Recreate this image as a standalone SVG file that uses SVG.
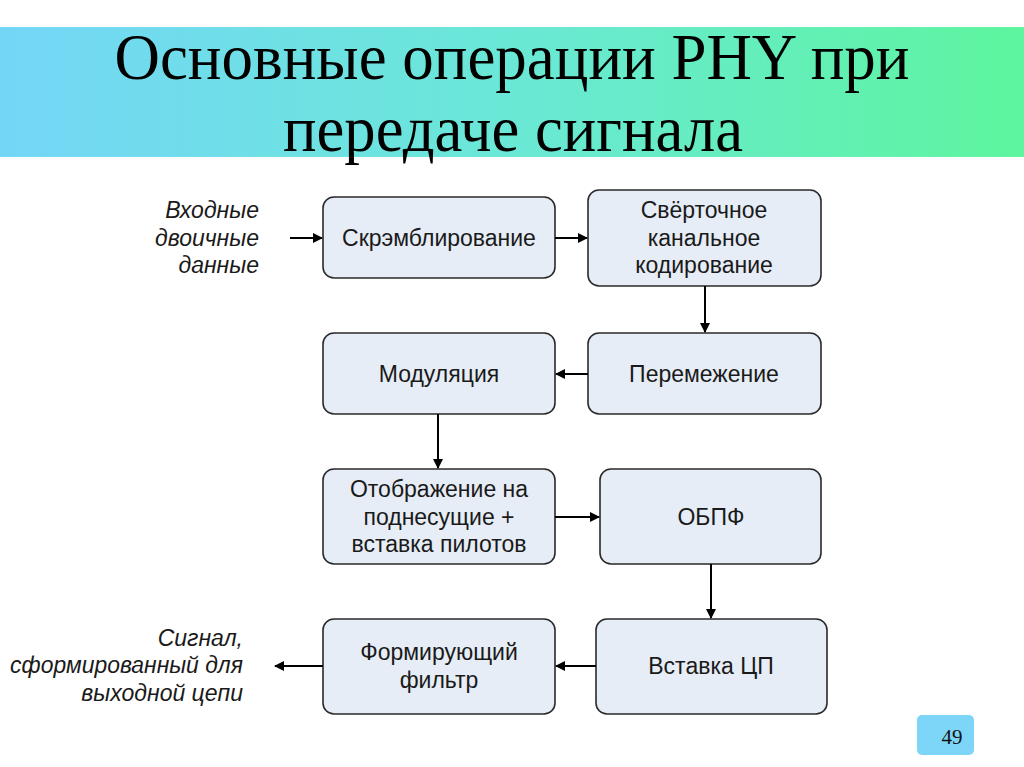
<svg xmlns="http://www.w3.org/2000/svg" width="1024" height="767" viewBox="0 0 1024 767">
<defs>
<linearGradient id="band" x1="0" y1="0" x2="1" y2="0">
<stop offset="0" stop-color="#74d6f7"/>
<stop offset="0.5" stop-color="#6ae8d6"/>
<stop offset="1" stop-color="#5df59e"/>
</linearGradient>
<marker id="arr" markerWidth="10" markerHeight="10" refX="9" refY="5" orient="auto" markerUnits="userSpaceOnUse">
<path d="M0,0 L10,5 L0,10 Z" fill="#000"/>
</marker>
<style>
.box{fill:#e6edf6;stroke:#2a2a2a;stroke-width:1.6}
.t{font-family:"Liberation Sans",Arial,sans-serif;font-size:23px;fill:#1a1a1a;text-anchor:middle}
.lab{font-family:"Liberation Sans",Arial,sans-serif;font-size:23px;font-style:italic;fill:#1a1a1a;text-anchor:end}
.c{stroke:#000;stroke-width:2;fill:none;marker-end:url(#arr)}
.title{font-family:"Liberation Serif","Times New Roman",serif;font-size:66px;fill:#000;text-anchor:middle}
</style>
</defs>
<rect width="1024" height="767" fill="#fff"/>
<rect x="0" y="27" width="1024" height="130" fill="url(#band)"/>
<text class="title" x="512" y="79" textLength="795" lengthAdjust="spacingAndGlyphs">Основные операции PHY при</text>
<text class="title" x="513" y="151" textLength="460" lengthAdjust="spacingAndGlyphs">передаче сигнала</text>

<g id="in-label">
<text class="lab" x="259" y="218">Входные</text>
<text class="lab" x="259" y="246">двоичные</text>
<text class="lab" x="259" y="273">данные</text>
</g>
<g id="out-label">
<text class="lab" x="243" y="646">Сигнал,</text>
<text class="lab" x="243" y="673" textLength="233" lengthAdjust="spacingAndGlyphs">сформированный для</text>
<text class="lab" x="243" y="701">выходной цепи</text>
</g>

<g id="n1"><rect class="box" x="323" y="197" width="232" height="81" rx="11"/><text class="t" x="439" y="246">Скрэмблирование</text></g>
<g id="n2"><rect class="box" x="588" y="190" width="233" height="96" rx="11"/><text class="t" x="704" y="218">Свёрточное</text><text class="t" x="704" y="246">канальное</text><text class="t" x="704" y="273">кодирование</text></g>
<g id="n3"><rect class="box" x="323" y="333" width="232" height="81" rx="11"/><text class="t" x="439" y="382">Модуляция</text></g>
<g id="n4"><rect class="box" x="588" y="333" width="233" height="81" rx="11"/><text class="t" x="704" y="382">Перемежение</text></g>
<g id="n5"><rect class="box" x="323" y="469" width="232" height="95" rx="11"/><text class="t" x="439" y="497">Отображение на</text><text class="t" x="439" y="525">поднесущие +</text><text class="t" x="439" y="552">вставка пилотов</text></g>
<g id="n6"><rect class="box" x="600" y="469" width="221" height="95" rx="11"/><text class="t" x="711" y="525">ОБПФ</text></g>
<g id="n7"><rect class="box" x="323" y="619" width="232" height="95" rx="11"/><text class="t" x="439" y="660">Формирующий</text><text class="t" x="439" y="688">фильтр</text></g>
<g id="n8"><rect class="box" x="596" y="619" width="231" height="95" rx="11"/><text class="t" x="711" y="674">Вставка ЦП</text></g>

<g id="connectors">
<line class="c" x1="290" y1="238" x2="322" y2="238"/>
<line class="c" x1="555" y1="238" x2="587" y2="238"/>
<line class="c" x1="705" y1="286" x2="705" y2="332"/>
<line class="c" x1="588" y1="374" x2="556" y2="374"/>
<line class="c" x1="438" y1="414" x2="438" y2="468"/>
<line class="c" x1="555" y1="517" x2="599" y2="517"/>
<line class="c" x1="711" y1="564" x2="711" y2="618"/>
<line class="c" x1="596" y1="666" x2="556" y2="666"/>
<line class="c" x1="323" y1="666" x2="275" y2="666"/>
</g>

<g id="page">
<rect x="917" y="715" width="57" height="40" rx="5" fill="#7dd5f8"/>
<text x="952" y="744" font-family="Liberation Serif,serif" font-size="21" text-anchor="middle" fill="#111">49</text>
</g>
</svg>
